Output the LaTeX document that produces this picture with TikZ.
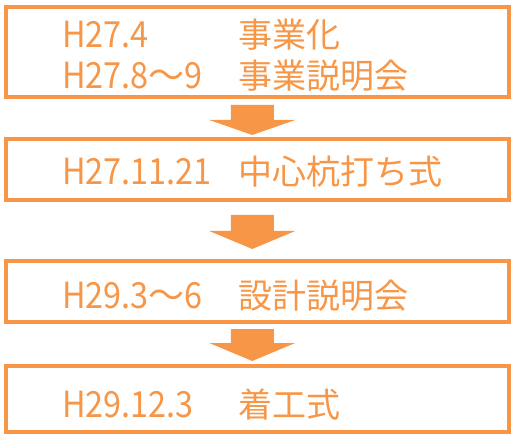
\documentclass[tikz,border=0pt]{standalone}
\usepackage{fontspec}
\newfontfamily\jp{Noto Sans CJK JP}
\newfontfamily\jpn[FakeStretch=0.9]{Noto Sans CJK JP}
\usetikzlibrary{calc}
\definecolor{og}{HTML}{F79646}
\begin{document}
\begin{tikzpicture}[x=1pt,y=1pt,
  box/.style={draw=og,line width=4pt,rectangle,inner sep=0pt,minimum width=503.5pt},
  txt/.style={anchor=base west,inner sep=0pt,text=og,font=\jp\fontsize{34}{34}\selectfont},
  num/.style={anchor=base west,inner sep=0pt,text=og,font=\jpn\fontsize{36}{36}\selectfont},
  blockarrow/.style={fill=og,draw=none}]
\useasboundingbox (0,0) rectangle (511,434);
\node[box,minimum height=89.5pt] (b1) at (257.25,381.75) {};
\node[box,minimum height=61pt] (b2) at (257.25,264.5) {};
\node[box,minimum height=61pt] (b3) at (257.25,142.5) {};
\node[box,minimum height=66pt] (b4) at (257.25,35) {};
\node[num] (t1a) at (62,386) {H27.4};
\node[txt] (t1b) at (238,386) {事業化};
\node[num] (t2a) at (62,345) {H27.8\jp～\jpn9};
\node[txt] (t2b) at (238,345) {事業説明会};
\node[num] (t3a) at (62,249) {H27.11.21};
\node[txt] (t3b) at (238,249) {中心杭打ち式};
\node[num] (t4a) at (62,126) {H29.3\jp～\jpn6};
\node[txt] (t4b) at (238,126) {設計説明会};
\node[num] (t5a) at (62,17) {H29.12.3};
\node[txt] (t5b) at (238,17) {着工式};
\foreach \a/\b/\gs/\gp/\hh in {b1/b2/6/2/15, b2/b3/13/10/18, b3/b4/5/3/18}{
  \coordinate (s) at ($(\a.south)+(-5,-\gs)$);
  \coordinate (p) at ($(\b.north)+(-5,\gp)$);
  \fill[blockarrow] ($(s)+(-21.5,0)$) -- ($(s)+(21.5,0)$) -- ($(p)+(21.5,\hh)$) -- ($(p)+(43,\hh)$) -- (p) -- ($(p)+(-43,\hh)$) -- ($(p)+(-21.5,\hh)$) -- cycle;
}
\end{tikzpicture}
\end{document}
